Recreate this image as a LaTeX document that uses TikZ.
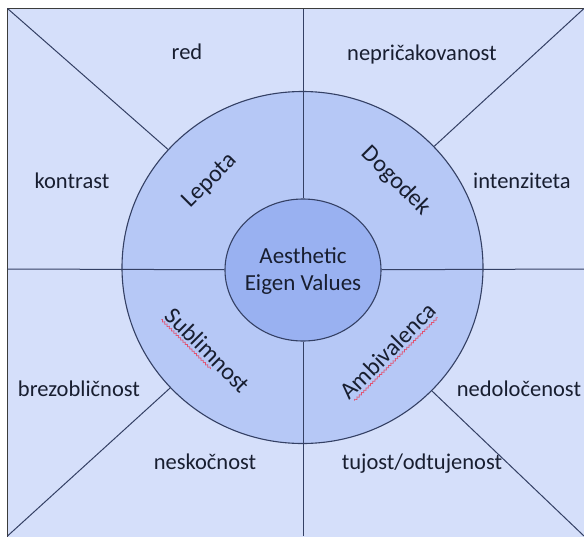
\documentclass[tikz,border=0pt]{standalone}
\usepackage{fontspec}
\setmainfont{Carlito}
\usetikzlibrary{calc,shapes.geometric,decorations.pathmorphing}

\definecolor{paleblue}{RGB}{213,223,250}
\definecolor{ringblue}{RGB}{182,200,246}
\definecolor{coreblue}{RGB}{153,177,241}
\definecolor{edgeline}{RGB}{52,64,100}
\definecolor{framegray}{RGB}{60,60,60}
\definecolor{inktext}{RGB}{24,30,48}
\definecolor{spellred}{RGB}{226,82,112}

\tikzset{
  divider/.style={draw=edgeline, line width=1pt},
  ringshape/.style={ellipse, draw=edgeline, line width=1.1pt, inner sep=0pt},
  outerword/.style={text=inktext, anchor=base, inner sep=0pt,
    font=\fontsize{22.5}{26}\selectfont},
  ringword/.style={text=inktext, inner xsep=0pt, inner ysep=1pt,
    font=\fontsize{24}{28}\selectfont},
  coreword/.style={text=inktext, align=center, inner sep=0pt,
    font=\fontsize{23}{27}\selectfont},
  squiggle/.style={draw=spellred, line width=0.7pt,
    decorate, decoration={snake, amplitude=0.9pt, segment length=3.2pt}}
}

\begin{document}
\begin{tikzpicture}[x=1pt, y=-1pt]
\useasboundingbox (0,0) rectangle (584,536);

% background panel, running off the right and bottom edges
\begin{scope}
  \clip (0,0) rectangle (584,536);
  \filldraw[fill=paleblue, draw=framegray, line width=1.1pt]
    (7.5,8.5) rectangle (600,560);
\end{scope}

% corner and edge points of the panel
\coordinate (tl) at (7.5,8.5);
\coordinate (tr) at (584,8.5);
\coordinate (bl) at (7.5,536);
\coordinate (br) at (584,536);
\coordinate (lm) at (7.5,269);
\coordinate (rm) at (584,269);
\coordinate (tm) at (303,8.5);
\coordinate (bm) at (303,536);

% outer ring and core
\node[ringshape, fill=ringblue, minimum width=361pt, minimum height=352pt]
  (ring) at (302.5,267.5) {};
\node[ringshape, fill=coreblue, minimum width=156pt, minimum height=142pt]
  (core) at (303,270) {};

% diagonal spokes from the panel corners to the ring
\draw[divider] (tl) -- (ring);
\draw[divider] (tr) -- (ring);
\draw[divider] (bl) -- (ring);
\draw[divider] (br) -- (ring);

% horizontal and vertical dividers up to the core
\draw[divider] (lm) -- (core);
\draw[divider] (core) -- (rm);
\draw[divider] (tm) -- (core);
\draw[divider] (core) -- (bm);

% core label
\node[coreword] (aev) at (303,271) {Aesthetic\\Eigen Values};

% ring labels
\node[ringword, rotate=45]  (lep) at (210,181) {Lepota};
\node[ringword, rotate=-45] (dog) at (396,181) {Dogodek};
\node[ringword, rotate=-45] (sub) at (208,350) {Sublimnost};
\node[ringword, rotate=45]  (amb) at (388,351) {Ambivalenca};

% spell-check underlines
\coordinate (sa) at ($(sub.base west)!3.2pt!-90:(sub.base east)$);
\coordinate (sb) at ($(sub.base east)!3.2pt!90:(sub.base west)$);
\draw[squiggle] (sa) -- ($(sa)!0.64!(sb)$);
\coordinate (aa) at ($(amb.base west)!3.2pt!-90:(amb.base east)$);
\coordinate (ab) at ($(amb.base east)!3.2pt!90:(amb.base west)$);
\draw[squiggle] ($(aa)!0.03!(ab)$) -- ($(aa)!0.97!(ab)$);

% outer labels
\node[outerword] (w1) at (187,59)  {red};
\node[outerword] (w2) at (422,60)  {nepričakovanost};
\node[outerword] (w3) at (72,188)  {kontrast};
\node[outerword] (w4) at (522,188) {intenziteta};
\node[outerword] (w5) at (79,396)  {brezobličnost};
\node[outerword] (w6) at (519,396) {nedoločenost};
\node[outerword] (w7) at (205,469) {neskočnost};
\node[outerword] (w8) at (422,469) {tujost/odtujenost};
\end{tikzpicture}
\end{document}
